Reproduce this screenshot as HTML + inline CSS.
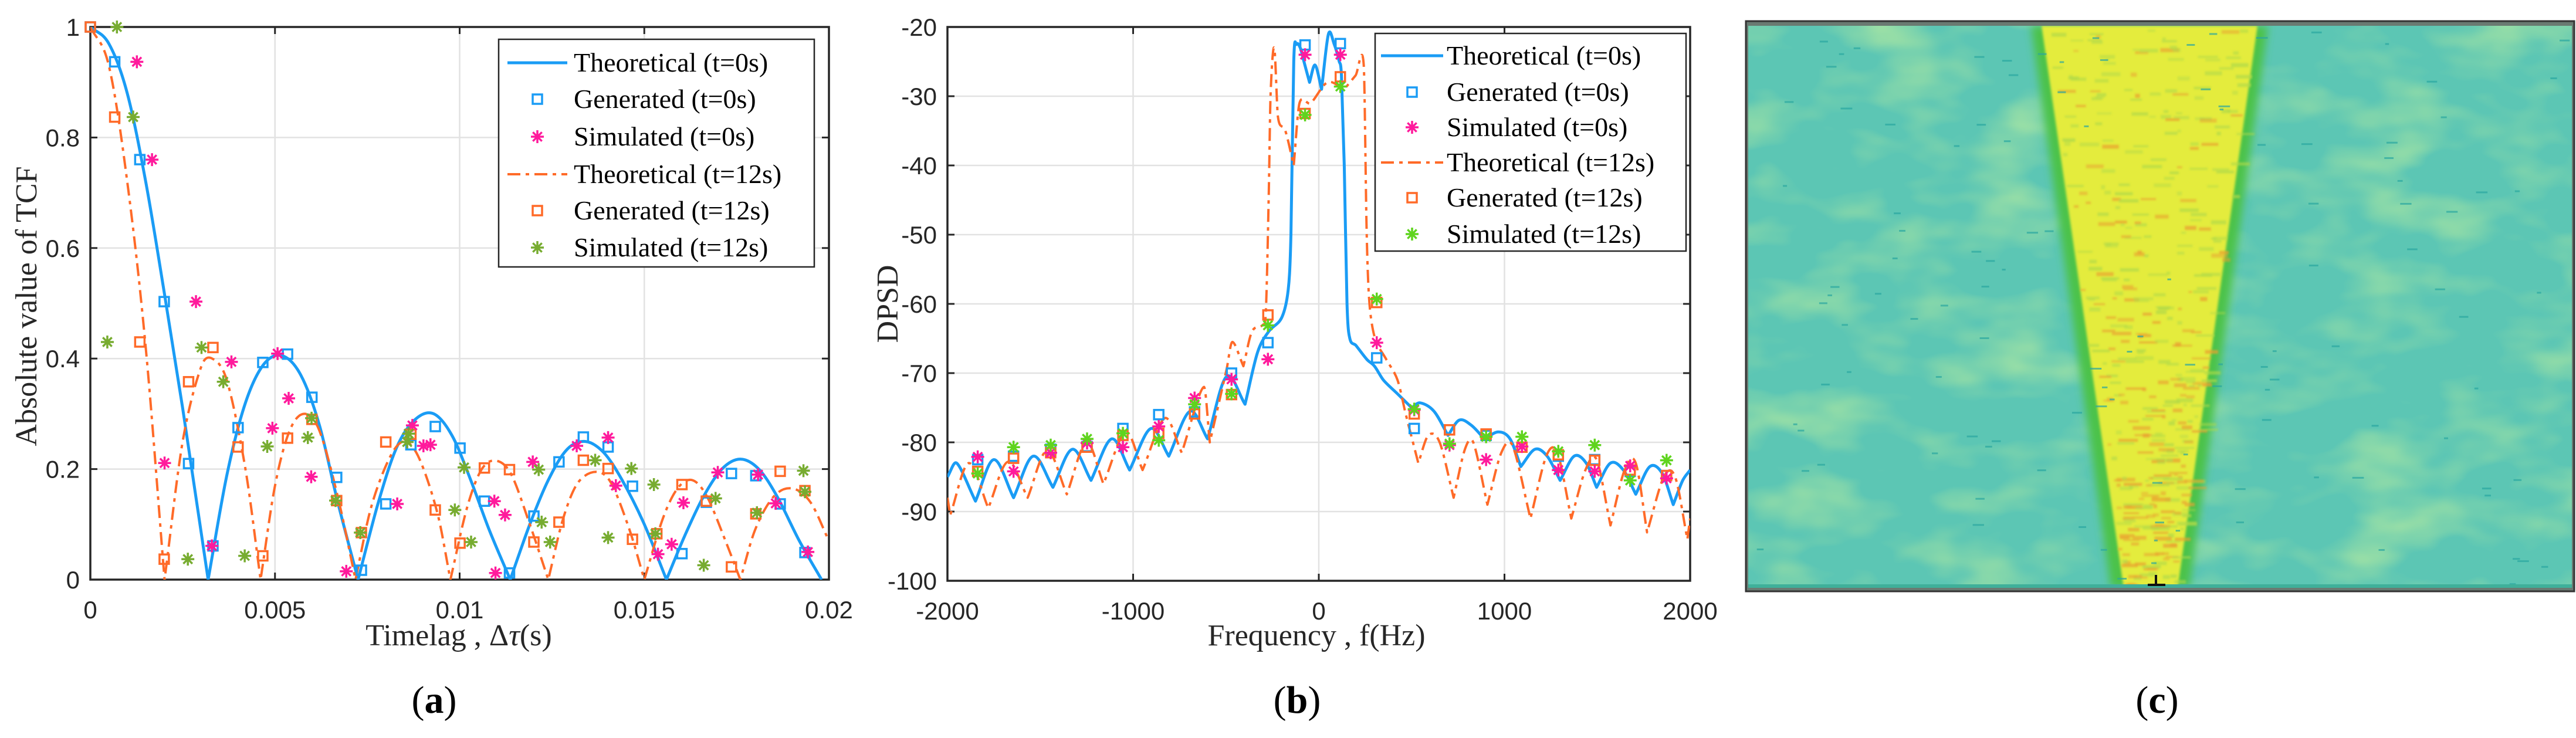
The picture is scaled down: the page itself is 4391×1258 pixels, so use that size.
<!DOCTYPE html>
<html><head><meta charset="utf-8"><style>
html,body{margin:0;padding:0;background:#fff;}
svg{display:block;}
.tick{font-family:"Liberation Sans",sans-serif;font-size:42px;fill:#262626;}
.ttl{font-family:"Liberation Serif",serif;font-size:52px;fill:#262626;}
.leg{font-family:"Liberation Serif",serif;font-size:46px;fill:#000;}
.cap{font-family:"Liberation Serif",serif;font-size:66px;fill:#000;}
</style></head><body>
<svg id="fig" width="4391" height="1258" viewBox="0 0 4391 1258" xmlns="http://www.w3.org/2000/svg">
<defs>
<clipPath id="clipA"><rect x="154" y="46" width="1259" height="942"/></clipPath>
<clipPath id="clipB"><rect x="1615" y="46" width="1266" height="944"/></clipPath>
<clipPath id="clipC"><rect x="2980" y="44" width="1404" height="958"/></clipPath>
<filter id="noise" x="0" y="0" width="100%" height="100%">
<feTurbulence type="fractalNoise" baseFrequency="0.006 0.012" numOctaves="3" seed="4"/>
<feColorMatrix type="matrix" values="0 0 0 0 0.42  0 0 0 0 0.80  0 0 0 0 0.36  0 0 0 1.8 -0.8"/>
</filter>
<filter id="blur6"><feGaussianBlur stdDeviation="7"/></filter>
<filter id="blur2"><feGaussianBlur stdDeviation="2"/></filter>
<filter id="blur1"><feGaussianBlur stdDeviation="1.5"/></filter>
</defs>
<g id="panelA"></g>
<g id="panelB"></g>
<g id="panelC"></g>
<text class="ttl" x="782" y="1100" text-anchor="middle">Timelag , Δ<tspan font-style="italic">τ</tspan>(s)</text>
<text class="ttl" transform="translate(62,522) rotate(-90)" text-anchor="middle">Absolute value of TCF</text>
<text class="cap" x="740" y="1215" text-anchor="middle">(<tspan font-weight="bold">a</tspan>)</text>
<text class="ttl" x="2244" y="1100" text-anchor="middle">Frequency , f(Hz)</text>
<text class="ttl" transform="translate(1530,518) rotate(-90)" text-anchor="middle">DPSD</text>
<text class="cap" x="2211" y="1215" text-anchor="middle">(<tspan font-weight="bold">b</tspan>)</text>
<text class="cap" x="3677" y="1215" text-anchor="middle">(<tspan font-weight="bold">c</tspan>)</text>
</svg>
<script>
// ---------- Panel A data ----------
const aTheo0X=[0,0.0005,0.001,0.0015,0.002,0.0025,0.00319,0.0037,0.0042,0.0047,0.0052,0.0057,0.0062,0.0067,0.00725,0.0078,0.0083,0.0088,0.0093,0.0098,0.0103,0.0108,0.01137,0.0119,0.0124,0.0129,0.0134,0.0139,0.0144,0.0150,0.0156,0.0161,0.0166,0.0171,0.0176,0.0181,0.0186,0.0192,0.0198];
const aTheo0Y=[1,0.97,0.88,0.72,0.52,0.31,0,0.19,0.32,0.39,0.405,0.37,0.28,0.14,0,0.14,0.24,0.29,0.30,0.26,0.18,0.09,0,0.10,0.18,0.235,0.25,0.23,0.18,0.10,0,0.08,0.15,0.20,0.218,0.20,0.15,0.07,0];
const aTheo12X=[0,0.0005,0.001,0.0015,0.00201,0.0025,0.003,0.0033,0.0037,0.0042,0.00461,0.005,0.0054,0.0058,0.0062,0.0067,0.00718,0.0076,0.0081,0.0085,0.0089,0.0094,0.00975,0.0102,0.0106,0.011,0.0114,0.0119,0.0124,0.0128,0.0132,0.0137,0.0141,0.0146,0.0150,0.0155,0.0159,0.0163,0.0167,0.0172,0.0176,0.018,0.0185,0.019,0.0195,0.02];
const aTheo12Y=[1,0.93,0.72,0.42,0,0.25,0.385,0.40,0.36,0.20,0,0.17,0.27,0.30,0.27,0.15,0,0.13,0.22,0.25,0.22,0.12,0,0.13,0.20,0.215,0.19,0.10,0,0.11,0.175,0.195,0.175,0.09,0,0.11,0.165,0.18,0.15,0.07,0,0.09,0.15,0.165,0.14,0.07];
const aGenX=[0,0.00066,0.00134,0.002,0.00266,0.00332,0.004,0.00467,0.00534,0.006,0.00667,0.00734,0.008,0.00868,0.00934,0.01001,0.01067,0.01135,0.01201,0.01269,0.01335,0.01402,0.01468,0.01602,0.01668,0.01736,0.01802,0.01868,0.01935];
const aGen0Y=[1,0.937,0.76,0.503,0.21,0.061,0.275,0.393,0.408,0.33,0.185,0.017,0.137,0.244,0.277,0.238,0.142,0.012,0.115,0.213,0.258,0.24,0.169,0.047,0.14,0.192,0.188,0.137,0.049];
const aGen12X=[0,0.00066,0.00134,0.002,0.00266,0.00332,0.004,0.00467,0.00534,0.006,0.00667,0.00734,0.008,0.00868,0.00934,0.01001,0.01067,0.01135,0.01201,0.01269,0.01335,0.01402,0.01468,0.01534,0.01602,0.01668,0.01736,0.01802,0.01868,0.01935];
const aGen12Y=[1,0.837,0.43,0.037,0.358,0.42,0.24,0.043,0.256,0.29,0.143,0.085,0.249,0.263,0.126,0.066,0.202,0.199,0.068,0.104,0.216,0.201,0.073,0.083,0.172,0.142,0.023,0.119,0.196,0.161];
const aSim0X=[0.00126,0.00167,0.00286,0.00201,0.00329,0.00382,0.00493,0.00507,0.00537,0.00598,0.00693,0.00831,0.00872,0.00902,0.00921,0.01094,0.01097,0.01123,0.01198,0.01317,0.01402,0.01423,0.01537,0.01574,0.01606,0.01699,0.01808,0.01856,0.01943];
const aSim0Y=[0.937,0.76,0.503,0.211,0.061,0.394,0.274,0.409,0.328,0.186,0.015,0.137,0.279,0.242,0.244,0.142,0.012,0.117,0.213,0.242,0.257,0.17,0.046,0.064,0.139,0.194,0.19,0.138,0.05];
const aSim12X=[0.00072,0.00116,0.00046,0.00264,0.00301,0.0036,0.00418,0.00479,0.00589,0.00599,0.00664,0.00731,0.00858,0.00862,0.00987,0.01012,0.01031,0.01214,0.01222,0.01245,0.01367,0.01402,0.01465,0.01526,0.0153,0.01661,0.01693,0.01805,0.01931,0.01935];
const aSim12Y=[1,0.837,0.43,0.037,0.42,0.358,0.043,0.241,0.257,0.292,0.143,0.085,0.249,0.264,0.126,0.203,0.068,0.199,0.104,0.068,0.216,0.076,0.201,0.172,0.083,0.026,0.147,0.121,0.197,0.159];
const aXTicks=[0,0.005,0.01,0.015,0.02];
const aXTickLabels=["0","0.005","0.01","0.015","0.02"];
const aYTicks=[0,0.2,0.4,0.6,0.8,1];
const aYTickLabels=["0","0.2","0.4","0.6","0.8","1"];
// ---------- Panel B data ----------
const bTheo0F=[-2000,-1950,-1849,-1750,-1644,-1538,-1432,-1327,-1227,-1115,-1019,-904,-808,-693,-599,-497,-397,-330,-270,-200,-165,-150,-135,-120,-100,-80,-50,-20,15,52,83,110,122,137,152,167,200,258,300,348,424,500,545,620,696,756,820,892,967,1030,1088,1164,1230,1300,1375,1440,1496,1571,1640,1707,1783,1850,1909,1960,2000];
const bTheo0D=[-85,-83,-88.5,-82.5,-88,-82,-86.5,-81,-85.5,-79.5,-84,-78,-82,-75.5,-79.5,-70.5,-74.5,-67,-64,-62,-58,-50,-25,-22.5,-23,-25,-28,-25.5,-29,-21,-22.5,-25,-27,-40,-60,-65,-66,-68,-69,-71,-73,-75,-74.3,-75.5,-79,-76.8,-77.5,-79.5,-78.5,-79.5,-83.5,-81,-82,-85.5,-82,-83,-86.5,-83,-84,-87.5,-83.5,-84.5,-89,-85.5,-84];
const bTheo12F=[-2000,-1985,-1885,-1780,-1674,-1568,-1463,-1357,-1251,-1160,-1040,-949,-829,-738,-619,-587,-497,-466,-406,-360,-300,-285,-270,-260,-240,-220,-180,-135,-104,-44,47,137,198,242,258,273,303,363,424,469,536,590,651,726,787,832,908,983,1044,1140,1225,1285,1360,1436,1496,1571,1647,1707,1768,1858,1919,1985,2000];
const bTheo12D=[-88,-90.5,-83,-89.5,-82.8,-88,-81.2,-87.5,-80,-86,-78.5,-84,-76.5,-81.5,-72,-80,-69.5,-65.5,-69,-64,-63,-61,-45,-30,-23,-33,-35,-40,-31,-31,-28,-29,-27,-25.5,-50,-60,-65,-68,-71,-76,-83,-79,-80,-88,-81,-80,-89,-81.5,-80.5,-91,-82,-81.5,-91,-84,-82.5,-92,-84,-83,-93,-85,-85,-94,-91];
const bMarkF=[-1837,-1644,-1444,-1248,-1055,-862,-669,-470,-274,-74,116,312,514,704,901,1094,1290,1486,1677,1873];
const bGen0D=[-82.5,-82,-81,-80.6,-78,-76,-75.6,-70,-65.6,-22.6,-22.4,-67.8,-78,-78.2,-79,-80.7,-82,-82.5,-84.2,-84.8];
const bSim0D=[-82.1,-84.2,-81.5,-80.1,-80.7,-77.7,-73.6,-70.9,-68,-24,-24,-65.6,-75.3,-80.4,-82.5,-80.6,-84,-84.2,-83.4,-85.2];
const bGen12D=[-84.2,-82.3,-81.5,-80.7,-79,-78.7,-75.9,-73.1,-61.6,-32.5,-27.2,-59.8,-75.9,-78.2,-78.8,-80.7,-81.8,-82.6,-84,-84.8];
const bSim12D=[-84.5,-80.7,-80.4,-79.5,-78.7,-79.7,-74.5,-73,-63.1,-32.7,-28.6,-59.3,-75.2,-80.2,-79.2,-79.2,-81.3,-80.4,-85.5,-82.6];
const bXTicks=[-2000,-1000,0,1000,2000];
const bXTickLabels=["-2000","-1000","0","1000","2000"];
const bYTicks=[-100,-90,-80,-70,-60,-50,-40,-30,-20];
const bYTickLabels=["-100","-90","-80","-70","-60","-50","-40","-30","-20"];

const NS="http://www.w3.org/2000/svg";
const BLUE="#1a9cf5",ORANGE="#ff6a28",MAG="#ff1a9c",GRA="#77ac30",GRB="#5fd41e",AX="#262626",GRID="#e2e2e2";
function mk(tag,attrs,parent){const e=document.createElementNS(NS,tag);for(const k in attrs)e.setAttribute(k,attrs[k]);parent.appendChild(e);return e;}

const A={x0:154,x1:1413,y0:46,y1:988};
function axA(v){return A.x0+v/0.02*(A.x1-A.x0);}
function ayA(v){return A.y1-v*(A.y1-A.y0);}
const B={x0:1615,x1:2881,y0:46,y1:990};
function axB(f){return B.x0+(f+2000)/4000*(B.x1-B.x0);}
function ayB(d){return B.y0+(-20-d)/80*(B.y1-B.y0);}

function drawAxes(g,R,xt,xl,yt,yl,sx,sy,name){
  const grid=mk('g',{},g);
  
  
  xt.forEach(v=>{const x=sx(v);mk('line',{x1:x,x2:x,y1:R.y0,y2:R.y1,stroke:GRID,'stroke-width':2.5},grid);});
  yt.forEach(v=>{const y=sy(v);mk('line',{x1:R.x0,x2:R.x1,y1:y,y2:y,stroke:GRID,'stroke-width':2.5},grid);});
  const ax=mk('g',{},g);
  
  
  mk('rect',{x:R.x0,y:R.y0,width:R.x1-R.x0,height:R.y1-R.y0,fill:'none',stroke:AX,'stroke-width':3.5},ax);
  xt.forEach((v,i)=>{const x=sx(v);
    mk('line',{x1:x,x2:x,y1:R.y1,y2:R.y1-12,stroke:AX,'stroke-width':3},ax);
    mk('line',{x1:x,x2:x,y1:R.y0,y2:R.y0+12,stroke:AX,'stroke-width':3},ax);
    const t=mk('text',{x:x,y:R.y1+66,'text-anchor':'middle',class:'tick'},ax);t.textContent=xl[i];
    
    
  });
  yt.forEach((v,i)=>{const y=sy(v);
    mk('line',{x1:R.x0,x2:R.x0+12,y1:y,y2:y,stroke:AX,'stroke-width':3},ax);
    mk('line',{x1:R.x1,x2:R.x1-12,y1:y,y2:y,stroke:AX,'stroke-width':3},ax);
    const t=mk('text',{x:R.x0-18,y:y+15,'text-anchor':'end',class:'tick'},ax);t.textContent=yl[i];
    
    
  });
}
// smooth path: rounded at peaks, cusp at local minima (value-wise)
function smoothPath(xs,ys,sx,sy,lowIsBig){
  const P=xs.map((x,i)=>[sx(x),sy(ys[i])]);
  const n=P.length;
  const isCusp=i=>{if(i<=0||i>=n-1)return false;const a=ys[i-1],b=ys[i],c=ys[i+1];return b<a&&b<c;};
  let d='M'+P[0][0].toFixed(1)+','+P[0][1].toFixed(1);
  for(let i=0;i<n-1;i++){
    const p0=P[i],p1=P[i+1];
    let t0,t1;
    if(i===0||isCusp(i))t0=[p1[0]-p0[0],p1[1]-p0[1]];
    else t0=[(P[i+1][0]-P[i-1][0])/2,(P[i+1][1]-P[i-1][1])/2];
    if(i+1===n-1||isCusp(i+1))t1=[p1[0]-p0[0],p1[1]-p0[1]];
    else t1=[(P[i+2][0]-P[i][0])/2,(P[i+2][1]-P[i][1])/2];
    // limit tangent x-extent to keep monotone in x
    const dx=p1[0]-p0[0];
    const f0=t0[0]>0?Math.min(1,dx/t0[0]):1, f1=t1[0]>0?Math.min(1,dx/t1[0]):1;
    const c1=[p0[0]+t0[0]*f0/3,p0[1]+t0[1]*f0/3],c2=[p1[0]-t1[0]*f1/3,p1[1]-t1[1]*f1/3];
    d+='C'+c1[0].toFixed(1)+','+c1[1].toFixed(1)+' '+c2[0].toFixed(1)+','+c2[1].toFixed(1)+' '+p1[0].toFixed(1)+','+p1[1].toFixed(1);
  }
  return d;
}
function line(g,xs,ys,sx,sy,color,w,dash,clip){
  const a={d:smoothPath(xs,ys,sx,sy),fill:'none',stroke:color,'stroke-width':w,'stroke-linejoin':'round','clip-path':'url(#'+clip+')'};
  if(dash)a['stroke-dasharray']=dash;
  return mk('path',a,g);
}
function square(g,x,y,c,s){return mk('rect',{x:x-s/2,y:y-s/2,width:s,height:s,fill:'none',stroke:c,'stroke-width':3.5},g);}
function star(g,x,y,c,r){return mk('path',{d:`M${x-r},${y}H${x+r}M${x},${y-r}V${y+r}M${x-r*0.7},${y-r*0.7}L${x+r*0.7},${y+r*0.7}M${x-r*0.7},${y+r*0.7}L${x+r*0.7},${y-r*0.7}`,stroke:c,'stroke-width':3.5,fill:'none'},g);}
function markers(g,xs,ys,sx,sy,type,c,name){
  const mg=mk('g',{},g);
  
  
  xs.forEach((x,i)=>{const e=type==='sq'?square(mg,sx(x),sy(ys[i]),c,16):star(mg,sx(x),sy(ys[i]),c,11);
    
    });
}
function legend(g,L,green,name){
  const lg=mk('g',{},g);
  
  
  mk('rect',{x:L.x,y:L.y,width:L.w,height:L.h,fill:'#fff',stroke:AX,'stroke-width':2.5},lg);
  const labels=["Theoretical (t=0s)","Generated (t=0s)","Simulated (t=0s)","Theoretical (t=12s)","Generated (t=12s)","Simulated (t=12s)"];
  labels.forEach((s,i)=>{const y=L.rows[i];const mx=(L.lx0+L.lx1)/2;
    if(i===0)mk('line',{x1:L.lx0,x2:L.lx1,y1:y,y2:y,stroke:BLUE,'stroke-width':5},lg);
    if(i===3)mk('line',{x1:L.lx0,x2:L.lx1,y1:y,y2:y,stroke:ORANGE,'stroke-width':4,'stroke-dasharray':'22 9 6 9'},lg);
    if(i===1)square(lg,mx,y,BLUE,16);
    if(i===4)square(lg,mx,y,ORANGE,16);
    if(i===2)star(lg,mx,y,MAG,11);
    if(i===5)star(lg,mx,y,green,11);
    const t=mk('text',{x:L.tx,y:y+15,class:'leg'},lg);t.textContent=s;
    
    
  });
}

// Panel A
const gA=document.getElementById('panelA');
drawAxes(gA,A,aXTicks,aXTickLabels,aYTicks,aYTickLabels,axA,ayA,'panel-a');
const la0=line(gA,aTheo0X,aTheo0Y,axA,ayA,BLUE,5,null,'clipA');


const la12=line(gA,aTheo12X,aTheo12Y,axA,ayA,ORANGE,4,'22 9 6 9','clipA');


markers(gA,aGenX,aGen0Y,axA,ayA,'sq',BLUE,'generated-t0-markers');
markers(gA,aGen12X,aGen12Y,axA,ayA,'sq',ORANGE,'generated-t12-markers');
markers(gA,aSim0X,aSim0Y,axA,ayA,'st',MAG,'simulated-t0-markers');
markers(gA,aSim12X,aSim12Y,axA,ayA,'st',GRA,'simulated-t12-markers');
legend(gA,{x:850,y:67,w:538,h:388,rows:[107,169,233,297,359,422],lx0:865,lx1:967,tx:978},GRA,'panel-a-legend');

// Panel B
const gB=document.getElementById('panelB');
drawAxes(gB,B,bXTicks,bXTickLabels,bYTicks,bYTickLabels,axB,ayB,'panel-b');
const lb0=line(gB,bTheo0F,bTheo0D,axB,ayB,BLUE,5,null,'clipB');


const lb12=line(gB,bTheo12F,bTheo12D,axB,ayB,ORANGE,4,'22 9 6 9','clipB');


markers(gB,bMarkF,bGen0D,axB,ayB,'sq',BLUE,'generated-t0-markers');
markers(gB,bMarkF,bGen12D,axB,ayB,'sq',ORANGE,'generated-t12-markers');
markers(gB,bMarkF,bSim0D,axB,ayB,'st',MAG,'simulated-t0-markers');
markers(gB,bMarkF,bSim12D,axB,ayB,'st',GRB,'simulated-t12-markers');
legend(gB,{x:2344,y:57,w:530,h:371,rows:[95,157,217,277,337,399],lx0:2354,lx1:2460,tx:2466},GRB,'panel-b-legend');

// Panel C (spectrogram image)
const gC=document.getElementById('panelC');
mk('rect',{x:2976,y:36,width:1412,height:972,fill:'#6a7a72'},gC);
const inner=mk('g',{'clip-path':'url(#clipC)'},gC);
mk('rect',{x:2980,y:44,width:1404,height:958,fill:'#5cc6b4'},inner);
mk('rect',{x:2980,y:44,width:1404,height:958,filter:'url(#noise)'},inner);
mk('polygon',{points:'3462,44 3866,44 3732,1002 3598,1002',fill:'#4cc24a',filter:'url(#blur6)'},inner);
mk('polygon',{points:'3480,44 3848,44 3712,1002 3620,1002',fill:'#e4ec3c',filter:'url(#blur2)'},inner);
let seed=7;function rnd(){seed=(seed*16807)%2147483647;return seed/2147483647;}
const streaks=mk('g',{filter:'url(#blur1)'},inner);
for(let i=0;i<420;i++){const y=50+rnd()*950;const t=(y-44)/958;const l=3480+(3620-3480)*t,r=3848+(3712-3848)*t;
  const x=l+rnd()*(r-l);const w=6+rnd()*28;const orange=rnd()<0.1+0.6*t;
  mk('rect',{x:x,y:y,width:w,height:3+rnd()*4,fill:orange?'#e9a030':'#b2da48',opacity:0.45+0.3*rnd()},streaks);}
for(let i=0;i<120;i++){mk('rect',{x:2985+rnd()*1390,y:50+rnd()*945,width:6+rnd()*14,height:3,fill:'#2aa6a0',opacity:0.7},inner);}
mk('rect',{x:2980,y:996,width:1404,height:6,fill:'#3fb09a'},inner);
mk('line',{x1:3675,x2:3675,y1:980,y2:998,stroke:'#111','stroke-width':4},gC);
mk('line',{x1:3661,x2:3691,y1:997,y2:997,stroke:'#111','stroke-width':4},gC);
mk('rect',{x:2976,y:36,width:1412,height:972,fill:'none',stroke:'#333','stroke-width':3},gC);
</script>
</body></html>
